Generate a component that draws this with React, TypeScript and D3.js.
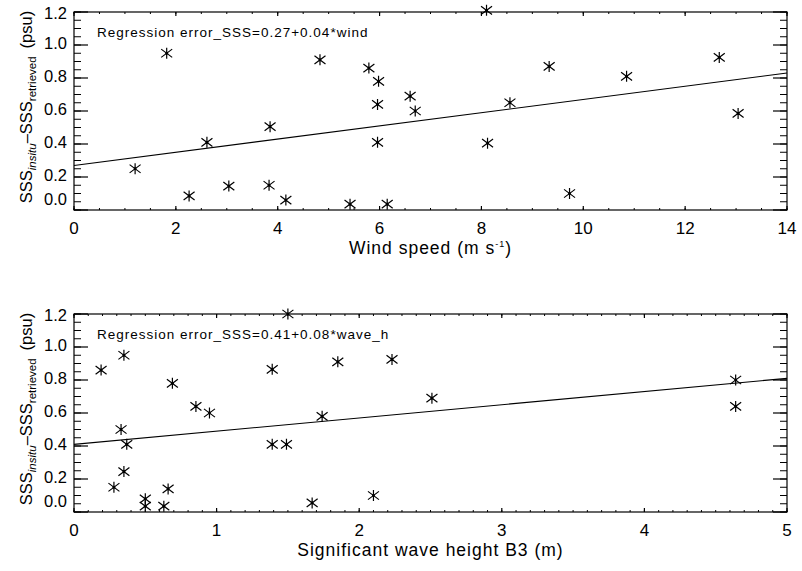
import React from 'react';
import * as d3 from 'd3';

// Observations: salinity error against wind speed and against wave height
const windSpeed = [1.2, 1.82, 2.26, 2.61, 3.04, 3.85, 3.83, 4.16, 4.83, 5.42, 5.79, 5.98, 5.96, 5.96, 6.15, 6.6, 6.7, 8.1, 8.56, 8.12, 9.33, 9.73, 10.85, 12.67, 13.04];
const errorVsWind = [0.25, 0.95, 0.085, 0.41, 0.145, 0.505, 0.15, 0.06, 0.91, 0.035, 0.86, 0.78, 0.64, 0.41, 0.035, 0.69, 0.6, 1.21, 0.65, 0.405, 0.87, 0.1, 0.81, 0.925, 0.585];
const waveHeight = [0.19, 0.35, 0.33, 0.37, 0.35, 0.28, 0.5, 0.5, 0.63, 0.66, 0.69, 0.855, 0.95, 1.39, 1.39, 1.49, 1.5, 1.67, 1.74, 1.85, 2.1, 2.23, 2.51, 4.64, 4.64];
const errorVsWave = [0.86, 0.95, 0.5, 0.41, 0.245, 0.15, 0.08, 0.035, 0.035, 0.14, 0.78, 0.64, 0.6, 0.865, 0.41, 0.41, 1.2, 0.055, 0.58, 0.91, 0.1, 0.925, 0.69, 0.8, 0.64];

// Regression coefficients [intercept, slope]
const windFit = [0.27, 0.04];
const waveFit = [0.41, 0.08];

const windTicks = [0, 2, 4, 6, 8, 10, 12, 14];
const waveTicks = [0, 1, 2, 3, 4, 5];
const errorTicks = [0, 0.2, 0.4, 0.6, 0.8, 1.0, 1.2];
const windMinorStep = 0.5;
const waveMinorStep = 0.1;
const errorMinorStep = 0.05;

const FONT = "'Liberation Sans', Arial, sans-serif";
const LEFT = 74;
const RIGHT = 787;
const PLOT_H = 198;

function range(lo: number, hi: number, step: number) {
  const out: number[] = [];
  const n = Math.round((hi - lo) / step);
  for (let i = 0; i <= n; i++) out.push(lo + i * step);
  return out;
}

const starPath = (r: number) =>
  `M0,${-r}L0,${r}M${-r},${-r * 0.75}L${r},${r * 0.75}M${-r},${r * 0.75}L${r},${-r * 0.75}`;

type PanelProps = {
  top: number;
  xs: number[];
  ys: number[];
  xTicks: number[];
  xMinor: number;
  fit: number[];
  equation: string;
  xTitle: React.ReactNode;
};

function Panel({ top, xs, ys, xTicks, xMinor, fit, equation, xTitle }: PanelProps) {
  const bottom = top + PLOT_H;
  const xDomain = [xTicks[0], xTicks[xTicks.length - 1]];
  const x = d3.scaleLinear().domain(xDomain).range([LEFT, RIGHT]);
  const y = d3.scaleLinear().domain([0, 1.2]).range([bottom, top]);

  const xMajLen = 4;
  const yMajLen = 14;
  const xMinorTicks = range(xDomain[0], xDomain[1], xMinor);
  const yMinorTicks = range(0, 1.2, errorMinorStep);

  const fitLine = d3.line<number>()
    .x((d) => x(d))
    .y((d) => y(fit[0] + fit[1] * d));

  const pts = xs.map((v, i) => [x(v), y(ys[i])]);

  return (
    <g>
      {/* frame */}
      <rect x={LEFT} y={top} width={RIGHT - LEFT} height={PLOT_H} fill="none" stroke="#000" strokeWidth={1.2} />
      {/* x ticks, bottom and top */}
      {xMinorTicks.map((t, i) => (
        <g key={'xm' + i} stroke="#000" strokeWidth={1}>
          <line x1={x(t)} x2={x(t)} y1={bottom} y2={bottom - xMajLen / 2} />
          <line x1={x(t)} x2={x(t)} y1={top} y2={top + xMajLen / 2} />
        </g>
      ))}
      {xTicks.map((t, i) => (
        <g key={'xt' + i}>
          <line x1={x(t)} x2={x(t)} y1={bottom} y2={bottom - xMajLen} stroke="#000" strokeWidth={1.2} />
          <line x1={x(t)} x2={x(t)} y1={top} y2={top + xMajLen} stroke="#000" strokeWidth={1.2} />
          <text x={x(t)} y={bottom + 24} textAnchor="middle" fontSize={17} fontFamily={FONT}>
            {d3.format('d')(t)}
          </text>
        </g>
      ))}
      {/* y ticks, left and right */}
      {yMinorTicks.map((t, i) => (
        <g key={'ym' + i} stroke="#000" strokeWidth={1}>
          <line x1={LEFT} x2={LEFT + yMajLen / 2} y1={y(t)} y2={y(t)} />
          <line x1={RIGHT} x2={RIGHT - yMajLen / 2} y1={y(t)} y2={y(t)} />
        </g>
      ))}
      {errorTicks.map((t, i) => {
        const ly = Math.min(Math.max(y(t), top + 3), bottom - 9);
        return (
          <g key={'yt' + i}>
            <line x1={LEFT} x2={LEFT + yMajLen} y1={y(t)} y2={y(t)} stroke="#000" strokeWidth={1.2} />
            <line x1={RIGHT} x2={RIGHT - yMajLen} y1={y(t)} y2={y(t)} stroke="#000" strokeWidth={1.2} />
            <text x={67} y={ly - 1.5} dy="0.36em" textAnchor="end" fontSize={16.5} fontFamily={FONT}>
              {d3.format('.1f')(t)}
            </text>
          </g>
        );
      })}
      {/* regression line */}
      <path d={fitLine(xDomain) || ''} fill="none" stroke="#000" strokeWidth={1.1} />
      {/* observations */}
      {pts.map(([px, py], i) => (
        <g key={'p' + i} transform={`translate(${px},${py})`}>
          <path d={starPath(5.5)} stroke="#000" strokeWidth={1.2} fill="none" />
          <circle r={1.4} fill="#000" />
        </g>
      ))}
      <text x={97} y={top + 25} fontSize={13.5} fontFamily={FONT} letterSpacing={1}>
        {equation}
      </text>
      {/* y title */}
      <text transform={`translate(32,${top + 95}) rotate(-90)`} textAnchor="middle" fontSize={16.5} fontFamily={FONT}>
        <tspan>SSS</tspan>
        <tspan fontSize={11.5} fontStyle="italic" dy={4}>insitu</tspan>
        <tspan dy={-4}>–SSS</tspan>
        <tspan fontSize={11.5} dy={4}>retrieved</tspan>
        <tspan dy={-4} dx={8}>(psu)</tspan>
      </text>
      {/* x title */}
      <text x={(LEFT + RIGHT) / 2} y={bottom + 44} textAnchor="middle" fontSize={17.5} fontFamily={FONT} letterSpacing={1}>
        {xTitle}
      </text>
    </g>
  );
}

export default function App() {
  return (
    <svg width={802} height={571} style={{ position: 'absolute', left: 0, top: 0, background: '#fff' }}>
      <rect width={802} height={571} fill="#fff" />
      <Panel
        top={12}
        xs={windSpeed}
        ys={errorVsWind}
        xTicks={windTicks}
        xMinor={windMinorStep}
        fit={windFit}
        equation={`Regression error_SSS=${windFit[0]}+${windFit[1]}*wind`}
        xTitle={
          <>
            <tspan>Wind speed (m s</tspan>
            <tspan fontSize={9} dy={-7}>-1</tspan>
            <tspan dy={7}>)</tspan>
          </>
        }
      />
      <Panel
        top={314}
        xs={waveHeight}
        ys={errorVsWave}
        xTicks={waveTicks}
        xMinor={waveMinorStep}
        fit={waveFit}
        equation={`Regression error_SSS=${waveFit[0]}+${waveFit[1]}*wave_h`}
        xTitle={<tspan>Significant wave height B3 (m)</tspan>}
      />
    </svg>
  );
}
